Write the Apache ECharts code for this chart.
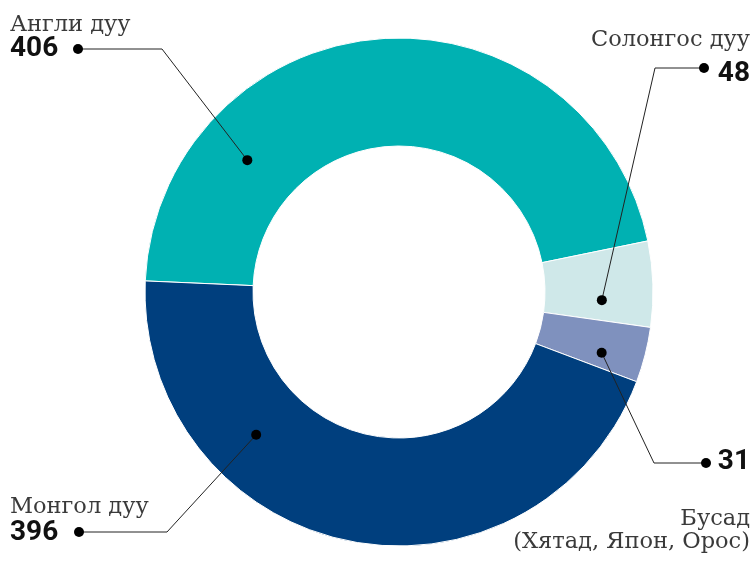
<!DOCTYPE html>
<html>
<head>
<meta charset="utf-8">
<script src="https://cdn.jsdelivr.net/npm/echarts@6/dist/echarts.min.js"></script>
<style>html,body{margin:0;padding:0;background:#fff;}#chart{width:752px;height:561px;}</style>
</head>
<body>
<div id="chart"></div>
<script>
const categories = ['Англи дуу', 'Солонгос дуу', 'Бусад', 'Монгол дуу'];
const values = [406, 48, 31, 396];
const valueLabels = ['406', '48', '31', '396'];
const subNote = '(Хятад, Япон, Орос)';
const colors = ['#00b1b2', '#cfe8e9', '#7f91be', '#003f7e'];

const cx = 399, cy = 292, rIn = 146, rOut = 254;
const chart = echarts.init(document.getElementById('chart'));

const nameFont = 'normal 22.5px "DejaVu Serif"';
const numFont = 'bold 28px Roboto';
function txt(x, baseline, s, font, size, align) {
  return { type: 'text', z: 100, x: x, y: baseline - 0.36 * size, style: { text: s, font: font, fill: font === numFont ? '#111' : '#3a3a3a', textAlign: align, textVerticalAlign: 'middle' } };
}
function dot(x, y, r) { return { type: 'circle', z: 100, shape: { cx: x, cy: y, r: r }, style: { fill: '#000' } }; }
function line(pts) { return { type: 'polyline', z: 100, shape: { points: pts }, style: { stroke: '#222', lineWidth: 1, fill: null } }; }
function polar(angDeg, r) { const a = angDeg * Math.PI / 180; return [cx + r * Math.cos(a), cy - r * Math.sin(a)]; }

const dA = polar(139, 201), dS = polar(-2.3, 203), dB = polar(-16.7, 211.6), dM = polar(225, 202);

const graphics = [
  line([dA, [162, 49], [78, 49]]), dot(dA[0], dA[1], 5), dot(78, 49, 5),
  line([dS, [655, 68], [704, 68]]), dot(dS[0], dS[1], 5), dot(704, 68, 5),
  line([dB, [654, 463], [706, 463]]), dot(dB[0], dB[1], 5), dot(706, 463, 5),
  line([dM, [167, 532], [79, 532]]), dot(dM[0], dM[1], 5), dot(79, 532, 5),
  txt(10, 33, categories[0], nameFont, 22.5, 'left'),
  txt(10, 59, valueLabels[0], numFont, 28, 'left'),
  txt(750, 48, categories[1], nameFont, 22.5, 'right'),
  txt(750, 84, valueLabels[1], numFont, 28, 'right'),
  txt(750, 472, valueLabels[2], numFont, 28, 'right'),
  txt(750, 527, categories[2], nameFont, 22.5, 'right'),
  txt(750, 550, subNote, nameFont, 22.5, 'right'),
  txt(10, 515, categories[3], nameFont, 22.5, 'left'),
  txt(10, 543, valueLabels[3], numFont, 28, 'left')
];

chart.setOption({
  animation: false,
  backgroundColor: '#fff',
  series: [{
    type: 'pie',
    center: [cx, cy],
    radius: [rIn, rOut],
    startAngle: 177.5,
    clockwise: true,
    label: { show: false },
    labelLine: { show: false },
    itemStyle: { borderColor: '#fff', borderWidth: 1 },
    emphasis: { disabled: true },
    data: categories.map((c, i) => ({ name: c, value: values[i], itemStyle: { color: colors[i] } }))
  }],
  graphic: graphics
});
</script>
</body>
</html>
